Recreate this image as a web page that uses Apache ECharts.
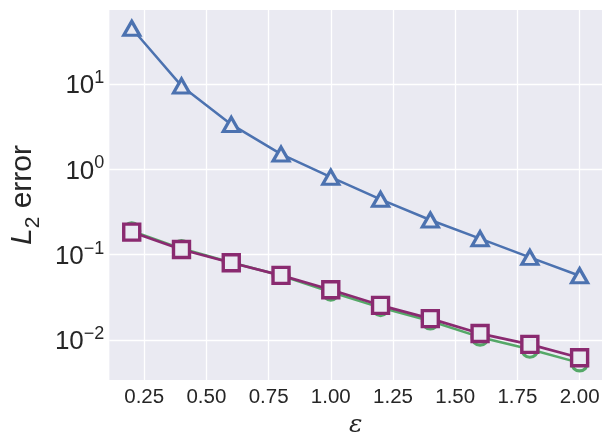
<!DOCTYPE html>
<html>
<head>
<meta charset="utf-8">
<script src="https://cdn.jsdelivr.net/npm/echarts@6/dist/echarts.min.js"></script>
<style>
html,body{margin:0;padding:0;background:#fff;}
#chart{width:611px;height:445px;}
</style>
</head>
<body>
<div id="chart"></div>
<script>
// ---- data ----
const epsilon = [0.2, 0.4, 0.6, 0.8, 1.0, 1.2, 1.4, 1.6, 1.8, 2.0];
const errTriangle = [45, 9.5, 3.36, 1.51, 0.81, 0.445, 0.255, 0.154, 0.093, 0.0567];
const errCircle   = [0.19, 0.118, 0.081, 0.057, 0.0365, 0.024, 0.0167, 0.0108, 0.0078, 0.0054];
const errSquare   = [0.184, 0.115, 0.0805, 0.0572, 0.0388, 0.0255, 0.0178, 0.0119, 0.0089, 0.0062];
const xTicks = [0.25, 0.5, 0.75, 1.0, 1.25, 1.5, 1.75, 2.0];
const yTicks = [0.01, 0.1, 1, 10];

const FONT = 'Liberation Sans, Arial, sans-serif';
const TXT = '#262626';
const BG = '#EAEAF2';

function pairs(xs, ys){ return xs.map((x,i)=>[x, ys[i]]); }

const chart = echarts.init(document.getElementById('chart'), null, {renderer:'canvas'});

const gridLines = xTicks.map(v=>({xAxis:v})).concat(yTicks.map(v=>({yAxis:v})));

chart.setOption({
  animation:false,
  backgroundColor:'#ffffff',
  grid:{left:106, right:9, top:10, bottom:65, show:true, backgroundColor:BG, borderWidth:0, z:0},
  xAxis:{
    type:'value', min:0.11, max:2.09,
    axisLine:{show:false}, axisTick:{show:false}, splitLine:{show:false},
    axisLabel:{customValues:xTicks, formatter:v=>v.toFixed(2), fontSize:20.5, color:TXT, fontFamily:FONT, margin:7},
    name:'ε', nameLocation:'middle', nameGap:28,
    nameTextStyle:{fontSize:25, fontStyle:'italic', color:TXT, fontFamily:'DejaVu Serif, serif'}
  },
  yAxis:{
    type:'log', logBase:10, min:0.0034, max:73.7,
    axisLine:{show:false}, axisTick:{show:false}, splitLine:{show:false},
    axisLabel:{
      customValues:yTicks, margin:5, color:TXT, fontFamily:FONT,
      formatter:v=>{
        const e = Math.round(Math.log10(v));
        const s = e < 0 ? '\u2212' + (-e) : String(e);
        return '{b|10}{s|' + s + '}';
      },
      rich:{
        b:{fontSize:26, color:TXT, fontFamily:FONT, lineHeight:30, verticalAlign:'bottom'},
        s:{fontSize:18, color:TXT, fontFamily:FONT, lineHeight:16, verticalAlign:'top'}
      }
    },
    name:'{i|L}{sub|2}{n| error}', nameLocation:'middle', nameGap:62,
    nameTextStyle:{
      color:TXT, fontFamily:FONT, fontSize:30,
      rich:{
        i:{fontSize:30, fontStyle:'italic', color:TXT, fontFamily:FONT, lineHeight:36, verticalAlign:'top'},
        sub:{fontSize:21, color:TXT, fontFamily:FONT, lineHeight:22, verticalAlign:'bottom'},
        n:{fontSize:30, color:TXT, fontFamily:FONT, lineHeight:36, verticalAlign:'top'}
      }
    }
  },
  series:[
    {
      type:'line', data:[], z:1, silent:true,
      markLine:{
        z:1, silent:true, symbol:['none','none'], label:{show:false},
        lineStyle:{color:'#ffffff', width:1.3, type:'solid'},
        emphasis:{disabled:true},
        data:gridLines
      }
    },
    {
      type:'line', data:pairs(epsilon, errTriangle), z:10,
      lineStyle:{color:'#4C72B0', width:2.5},
      symbol:'triangle', symbolSize:[16,14], showAllSymbol:true,
      itemStyle:{color:BG, borderColor:'#4C72B0', borderWidth:3.2}
    },
    {
      type:'line', data:pairs(epsilon, errCircle), z:11,
      lineStyle:{color:'#55A868', width:2.5},
      symbol:'circle', symbolSize:16, showAllSymbol:true,
      itemStyle:{color:BG, borderColor:'#55A868', borderWidth:3.2}
    },
    {
      type:'line', data:pairs(epsilon, errSquare), z:12,
      lineStyle:{color:'#8A2A70', width:2.7},
      symbol:'rect', symbolSize:16, showAllSymbol:true,
      itemStyle:{color:BG, borderColor:'#8A2A70', borderWidth:3.4}
    }
  ]
});
</script>
</body>
</html>
